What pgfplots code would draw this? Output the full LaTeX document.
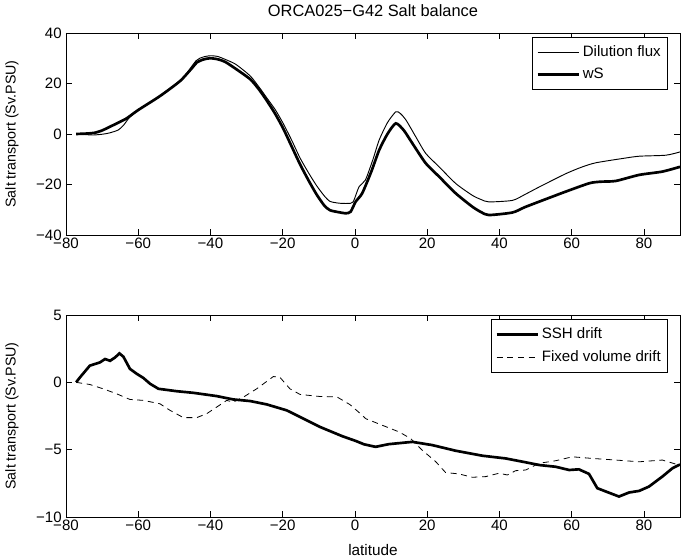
\documentclass[border=0pt]{standalone}
\usepackage{pgfplots}
\pgfplotsset{compat=1.18}
\usepackage{fontspec}
\setmainfont{Liberation Sans}
\begin{document}
\fontsize{10.5}{12.6}\selectfont
\begin{tikzpicture}
\useasboundingbox (0,0) rectangle (511.5pt,-420pt);
\pgfplotsset{
  mystyle/.style={
    scale only axis, width=460.5pt, height=151.5pt,
    anchor=north west,
    xmin=-80, xmax=90,
    xtick={-80,-60,...,80},
    xticklabels={−80,−60,−40,−20,0,20,40,60,80},
    tick align=inside,
    major tick length=4.5pt,
    tick style={black, line width=0.5pt},
    axis line style={line width=0.5pt},
    ticklabel style={font=\fontsize{11.3}{13}\selectfont},
    label style={font=\fontsize{10.7}{12.6}\selectfont},
    xticklabel style={yshift=1.5pt},
    yticklabel style={xshift=0.5pt},
    ylabel={Salt transport (Sv.PSU)},
    ylabel style={at={(axis description cs:-0.088,0.5)}, anchor=center},
    legend style={font=\fontsize{11.3}{13}\selectfont, draw=black, line width=0.5pt,
      at={(0.98,0.98)}, anchor=north east, cells={anchor=west, inner xsep=1pt},
      inner xsep=3pt, inner ysep=4.5pt, row sep=3pt},
    legend image code/.code={\draw[##1] (2pt,0pt) -- (33pt,0pt);},
  }
}
\begin{axis}[mystyle, at={(49.5pt,-24.75pt)},
  ymin=-40, ymax=40, ytick={-40,-20,0,20,40},
  yticklabels={−40,−20,0,20,40},
  title={ORCA025−G42 Salt balance},
  title style={at={(axis description cs:0.5,1)}, anchor=base, yshift=6.5pt, font=\fontsize{12.3}{14}\selectfont},
]
\addplot[black, line width=0.7pt, smooth, tension=0.4] coordinates {
(-77.2,0) (-74,-0.3) (-72.4,-0.4) (-70,-0.1) (-68,0.4) (-65.5,1.6) (-64,3.6) (-62.5,6.4) (-60,9.5)
(-54,15.2) (-48,21.6) (-44,29.0) (-42,30.5) (-40,31.0) (-38,30.7) (-36,29.6) (-33,27.6)
(-29,23.0) (-26.5,18.5) (-24.4,14.3) (-22,9.5) (-19.8,4.0) (-17.5,-2.5) (-15.2,-9.5)
(-12.8,-15.5) (-10.6,-20.5) (-8.5,-24.5) (-6.9,-26.7) (-4.4,-27.4) (-2,-27.5) (-0.5,-26.9)
(1.1,-21) (2.9,-18.2) (5,-10) (6.7,-2.4) (9,4.5) (11.3,8.8) (12.5,8.2) (14.1,5.6) (17,-1.5)
(19.6,-7.7) (23.3,-13.0) (27.9,-19.6) (32.5,-24.3) (35,-26.0) (37.1,-26.9) (43.6,-26.3)
(47,-24.0) (51.0,-21.0) (58.4,-15.7) (63,-13.0) (66.7,-11.4) (74.1,-9.7) (78.7,-8.8)
(86.1,-8.4) (90,-7.1)
};
\addlegendentry{Dilution flux}
\addplot[black, line width=2pt, smooth, tension=0.4] coordinates {
(-77.2,0) (-74,0.2) (-72,0.5) (-70,1.4) (-67.8,2.9) (-65.5,4.5) (-63.2,6.2) (-60,9.5)
(-54,15.0) (-48.4,21) (-45,26.3) (-43.8,28.3) (-42,29.5) (-40.1,30.0) (-38,29.6) (-36,28.6)
(-33.7,26.5) (-29,21.7) (-26.5,17.5) (-24.4,13.2) (-22,7.8) (-19.8,2.0) (-17.5,-5.0)
(-15.2,-12) (-12.8,-18.5) (-10.6,-24) (-8.5,-28.3) (-6.9,-30.2) (-4.4,-31.0) (-2.5,-31.4)
(-1.2,-30.8) (0.2,-26.8) (2.0,-23.5) (4.5,-15.0) (6.7,-6.4) (9,0) (11.3,4.2) (13.5,1.5)
(15.9,-3.7) (19.6,-11.6) (23.3,-16.9) (27.9,-23.5) (32.5,-28.8) (35,-31.0) (37.1,-32.1)
(43.6,-31.1) (47,-29.0) (51.0,-26.8) (58.4,-22.8) (64.9,-19.5) (68,-18.9) (72.2,-18.6)
(78.7,-16.2) (85.1,-14.9) (90,-13.0)
};
\addlegendentry{wS}
\end{axis}
\begin{axis}[mystyle, at={(49.5pt,-236.25pt)},
  ymin=-10, ymax=5, ytick={-10,-5,0,5},
  yticklabels={−10,−5,0,5},
  xlabel={latitude},
  xlabel style={at={(axis description cs:0.5,-0.163)}, anchor=center, font=\fontsize{11.5}{13}\selectfont},
]
\addplot[black, line width=2pt] coordinates {
(-77.2,0) (-76.1,0.38) (-73.4,1.24) (-70.6,1.48) (-69.2,1.73) (-67.8,1.6) (-66.4,1.85)
(-65.2,2.15) (-64.1,1.9) (-62.3,1.0) (-60.4,0.63) (-58.6,0.33) (-56.7,-0.11) (-54.4,-0.48)
(-49.3,-0.66) (-44.7,-0.78) (-38.3,-1.02) (-33.7,-1.27) (-29.0,-1.39) (-24.4,-1.64)
(-18.9,-2.08) (-15.2,-2.57) (-9.7,-3.31) (-3.5,-4.0) (0.2,-4.35) (2.5,-4.6) (5.7,-4.79)
(9.4,-4.59) (15.9,-4.42) (21.4,-4.66) (27.9,-5.08) (35.3,-5.45) (41.7,-5.65) (47.3,-5.94)
(51.0,-6.14) (55.6,-6.27) (59.3,-6.51) (62.0,-6.46) (64.8,-6.8) (67.1,-7.86) (69.4,-8.1)
(73.1,-8.48) (75.9,-8.18) (78.7,-8.06) (81.4,-7.74) (85.1,-7.0) (87.9,-6.38) (89.7,-6.14) (90,-6.1)
};
\addlegendentry{SSH drift}
\addplot[black, line width=0.6pt, dash pattern=on 4.5pt off 3.5pt] coordinates {
(-77.2,0) (-73.4,-0.16) (-69.7,-0.48) (-66.0,-0.85) (-62.3,-1.27) (-58.6,-1.34) (-54.0,-1.59)
(-51.2,-2.08) (-47.5,-2.62) (-43.8,-2.62) (-41.0,-2.32) (-38.3,-1.84) (-35.5,-1.34)
(-33.7,-1.47) (-30.9,-1.1) (-27.2,-0.48) (-22.6,0.43) (-20.8,0.38) (-18.0,-0.48)
(-15.2,-0.9) (-9.7,-1.05) (-5.0,-1.08) (-1.4,-1.65) (1.4,-2.3) (3.0,-2.7) (7.6,-3.19)
(12.2,-3.68) (15.4,-4.17) (18.6,-5.03) (22.4,-5.9) (25.1,-6.7) (28.8,-6.8) (32.5,-7.05)
(36.2,-7.0) (39.9,-6.75) (42.2,-6.88) (44.5,-6.56) (47.3,-6.51) (51.0,-6.01) (55.6,-5.82)
(60.2,-5.53) (65.7,-5.65) (72.2,-5.77) (78.7,-5.9) (85.1,-5.77) (89.7,-6.14) (90,-6.15)
};
\addlegendentry{Fixed volume drift}
\end{axis}
\end{tikzpicture}
\end{document}
